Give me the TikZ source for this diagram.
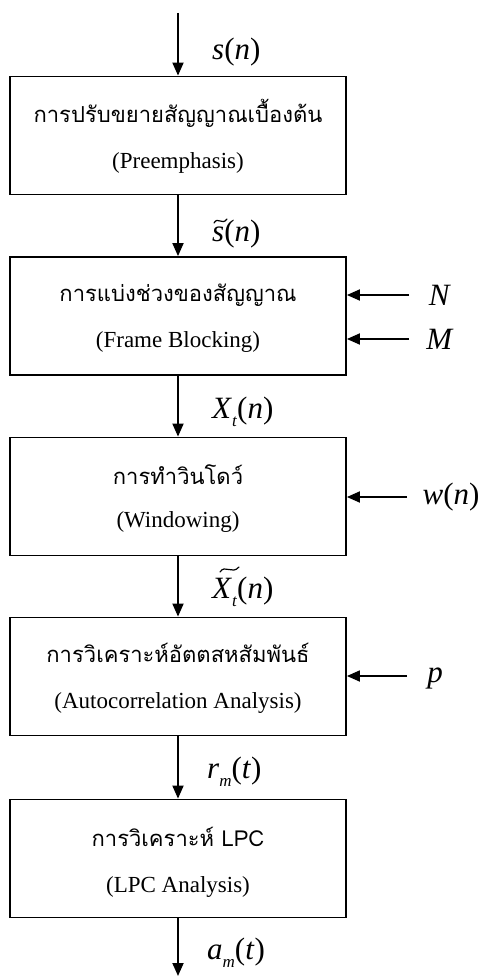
\documentclass[tikz,border=0pt]{standalone}
\usepackage{fontspec}
\setmainfont{Liberation Serif}
\newfontfamily\thaifont[Script=Thai]{Loma}
\usetikzlibrary{arrows.meta,calc}
\tikzset{
  blk/.style={draw, line width=1.8pt, minimum width=336pt, minimum height=118pt, inner sep=0pt},
  th/.style={font=\thaifont\fontsize{22}{26}\selectfont, inner sep=0pt},
  en/.style={font=\fontsize{23}{28}\selectfont, inner sep=0pt},
  lab/.style={font=\fontsize{31}{36}\selectfont, inner sep=0pt},
  arr/.style={line width=1.8pt, -{Triangle[length=13pt,width=11pt]}},
  tld/.style={line width=1.2pt, line cap=round},
}
\begin{document}
\begin{tikzpicture}[x=1pt,y=-1pt]
\useasboundingbox (0,0) rectangle (485,976);
% boxes
\node[blk] (b1) at (178,135.5) {};
\node[blk] (b2) at (178,316) {};
\node[blk] (b3) at (178,496.5) {};
\node[blk] (b4) at (178,676.5) {};
\node[blk] (b5) at (178,858.5) {};
% texts
\node[th] (t1) at (178,113) {การปรับขยายสัญญาณเบื้องต้น};
\node[en] (e1) at (178,163) {(Preemphasis)};
\node[th] (t2) at (178,295) {การแบ่งช่วงของสัญญาณ};
\node[en] (e2) at (178,342) {(Frame Blocking)};
\node[th] (t3) at (178,475) {การทำวินโดว์};
\node[en] (e3) at (178,522) {(Windowing)};
\node[th] (t4) at (178,653) {การวิเคราะห์อัตตสหสัมพันธ์};
\node[en] (e4) at (178,703) {(Autocorrelation Analysis)};
\node[th] (t5) at (178,837) {การวิเคราะห์ LPC};
\node[en] (e5) at (178,887) {(LPC Analysis)};
% in / out
\coordinate (in) at (178,13);
\coordinate (out) at (178,976);
\draw[arr] (in) -- (b1.north);
\draw[arr] (b1.south) -- (b2.north);
\draw[arr] (b2.south) -- (b3.north);
\draw[arr] (b3.south) -- (b4.north);
\draw[arr] (b4.south) -- (b5.north);
\draw[arr] (b5.south) -- (out);
% flow labels
\node[lab, anchor=west] (ls) at (212,52) {\textit{s}(\textit{n})};
\node[lab, anchor=west] (lst) at (212,234) {\textit{s}(\textit{n})};
\node[lab, anchor=west] (lx) at (212,412) {\textit{X}\raisebox{-0.25em}{\fontsize{17}{20}\selectfont\textit{t}}(\textit{n})};
\node[lab, anchor=west] (lxt) at (212,592) {\textit{X}\raisebox{-0.25em}{\fontsize{17}{20}\selectfont\textit{t}}(\textit{n})};
\node[lab, anchor=west] (lr) at (207,772) {\textit{r}\raisebox{-0.25em}{\fontsize{17}{20}\selectfont\textit{m}}(\textit{t})};
\node[lab, anchor=west] (la) at (207,953) {\textit{a}\raisebox{-0.25em}{\fontsize{17}{20}\selectfont\textit{m}}(\textit{t})};
% tildes
\draw[tld] ($(lst.west)+(2,-11)$) .. controls ($(lst.west)+(6,-18)$) and ($(lst.west)+(10,-8)$) .. ($(lst.west)+(15,-15)$);
\draw[tld] ($(lxt.west)+(8,-20)$) .. controls ($(lxt.west)+(13,-28)$) and ($(lxt.west)+(20,-17)$) .. ($(lxt.west)+(27,-25)$);
% side inputs
\node[lab] (N) at (440,295) {\textit{N}};
\node[lab] (M) at (440,339) {\textit{M}};
\node[lab] (w) at (451,497) {\textit{w}(\textit{n})};
\node[lab] (p) at (435,678) {\textit{p}};
\coordinate (sN) at (409,295);
\coordinate (sM) at (409,339);
\coordinate (sw) at (407,497);
\coordinate (sp) at (407,676);
\draw[arr] (sN) -- (b2.east |- sN);
\draw[arr] (sM) -- (b2.east |- sM);
\draw[arr] (sw) -- (b3.east |- sw);
\draw[arr] (sp) -- (b4.east |- sp);
\end{tikzpicture}
\end{document}
